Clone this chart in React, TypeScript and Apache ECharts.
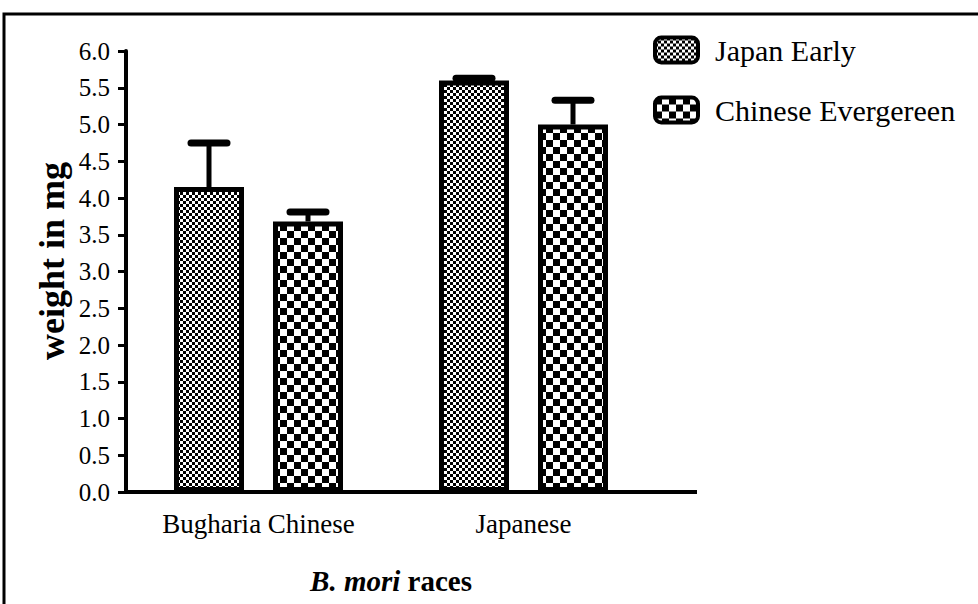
import React, { useEffect, useRef } from "react";
import * as echarts from "echarts";

const categories = ["Bugharia Chinese", "Japanese"];
const seriesNames = ["Japan Early", "Chinese Evergereen"];
const japanEarly = [4.15, 5.6];
const japanEarlyErr = [0.6, 0.03];
const chineseEvergreen = [3.68, 5.0];
const chineseEvergreenErr = [0.13, 0.33];
const yMin = 0;
const yMax = 6;
const yStep = 0.5;
const yTitle = "weight in mg";

const FONT = "'Liberation Serif', 'Times New Roman', serif";
const BAR_W = 70;
const BAR_GAP = 29;

function makeChecker(cell: number) {
  const c = document.createElement("canvas");
  c.width = cell * 2;
  c.height = cell * 2;
  const ctx = c.getContext("2d")!;
  ctx.fillStyle = "#fff";
  ctx.fillRect(0, 0, c.width, c.height);
  ctx.fillStyle = "#000";
  ctx.fillRect(0, 0, cell, cell);
  ctx.fillRect(cell, cell, cell, cell);
  return {
    image: c,
    repeat: "repeat",
    imageWidth: cell * 2,
    imageHeight: cell * 2,
  } as any;
}

export default function App() {
  const ref = useRef<HTMLDivElement>(null);
  useEffect(() => {
    if (!ref.current) return;
    const chart = echarts.init(ref.current, undefined, { renderer: "svg" });
    const fine = makeChecker(3);
    const coarse = makeChecker(7);

    const errRender = (sign: number) => (params: any, api: any) => {
      const idx = api.value(0);
      const v = api.value(1);
      const e = api.value(2);
      const base = api.coord([idx, v]);
      const top = api.coord([idx, v + e]);
      const x = base[0] + (sign * (BAR_W + BAR_GAP)) / 2;
      return {
        type: "group",
        children: [
          {
            type: "line",
            shape: { x1: x, y1: base[1], x2: x, y2: top[1] },
            style: { stroke: "#000", lineWidth: 5 },
          },
          {
            type: "line",
            shape: { x1: x - 18, y1: top[1], x2: x + 18, y2: top[1] },
            style: { stroke: "#000", lineWidth: 7, lineCap: "round" },
          },
        ],
      };
    };

    chart.setOption({
      animation: false,
      backgroundColor: "#fff",
      grid: { left: 126, right: 322, top: 51, bottom: 112 },
      legend: {
        orient: "vertical",
        left: 648,
        top: 30,
        itemWidth: 43,
        itemHeight: 25,
        itemGap: 30,
        icon: "roundRect",
        data: seriesNames,
        itemStyle: { borderColor: "#000", borderWidth: 4 },
        textStyle: { fontSize: 30, fontFamily: FONT, color: "#000", padding: [0, 0, 0, 12] },
      },
      xAxis: {
        type: "category",
        data: categories,
        axisLine: { lineStyle: { color: "#000", width: 4 } },
        axisTick: { alignWithLabel: true, length: 10, lineStyle: { color: "#000", width: 3 } },
        axisLabel: { fontSize: 27, fontFamily: FONT, color: "#000", margin: 18 },
        name: "{i|B. mori} races",
        nameLocation: "middle",
        nameGap: 74,
        nameTextStyle: {
          fontSize: 29,
          fontWeight: "bold",
          fontFamily: FONT,
          color: "#000",
          rich: {
            i: { fontSize: 29, fontWeight: "bold", fontStyle: "italic", fontFamily: FONT, color: "#000" },
          },
        },
      },
      yAxis: {
        type: "value",
        min: yMin,
        max: yMax,
        interval: yStep,
        splitLine: { show: false },
        axisLine: { show: true, lineStyle: { color: "#000", width: 4 } },
        axisTick: { show: true, length: 8, lineStyle: { color: "#000", width: 3 } },
        axisLabel: {
          fontSize: 25,
          fontFamily: FONT,
          color: "#000",
          margin: 16,
          formatter: (v: number) => v.toFixed(1),
        },
      },
      graphic: [
        {
          type: "rect",
          shape: { x: 4, y: 14, width: 1100, height: 800 },
          style: { fill: "none", stroke: "#000", lineWidth: 3 },
          silent: true,
        },
        {
          type: "line",
          shape: { x1: 654, y1: 492, x2: 697, y2: 492 },
          style: { stroke: "#000", lineWidth: 4 },
        },
        {
          type: "text",
          x: 52,
          y: 261,
          rotation: Math.PI / 2,
          style: {
            text: yTitle,
            fontSize: 36,
            fontWeight: "bold",
            fontFamily: FONT,
            fill: "#000",
            align: "center",
            verticalAlign: "middle",
          },
        },
      ],
      series: [
        {
          name: seriesNames[0],
          type: "bar",
          data: japanEarly,
          barWidth: BAR_W,
          barGap: (BAR_GAP / BAR_W) * 100 + "%",
          itemStyle: { color: fine, borderColor: "#000", borderWidth: 5 },
          z: 2,
        },
        {
          name: seriesNames[1],
          type: "bar",
          data: chineseEvergreen,
          barWidth: BAR_W,
          barGap: (BAR_GAP / BAR_W) * 100 + "%",
          itemStyle: { color: coarse, borderColor: "#000", borderWidth: 5 },
          z: 2,
        },
        {
          name: "errJE",
          type: "custom",
          renderItem: errRender(-1),
          data: japanEarly.map((v, i) => [i, v, japanEarlyErr[i]]),
          encode: { x: 0, y: 1 },
          z: 3,
        },
        {
          name: "errCE",
          type: "custom",
          renderItem: errRender(1),
          data: chineseEvergreen.map((v, i) => [i, v, chineseEvergreenErr[i]]),
          encode: { x: 0, y: 1 },
          z: 3,
        },
      ],
    });
    return () => chart.dispose();
  }, []);
  return (
    <div
      ref={ref}
      style={{ position: "fixed", left: 0, top: 0, width: 978, height: 604, background: "#fff" }}
    />
  );
}
